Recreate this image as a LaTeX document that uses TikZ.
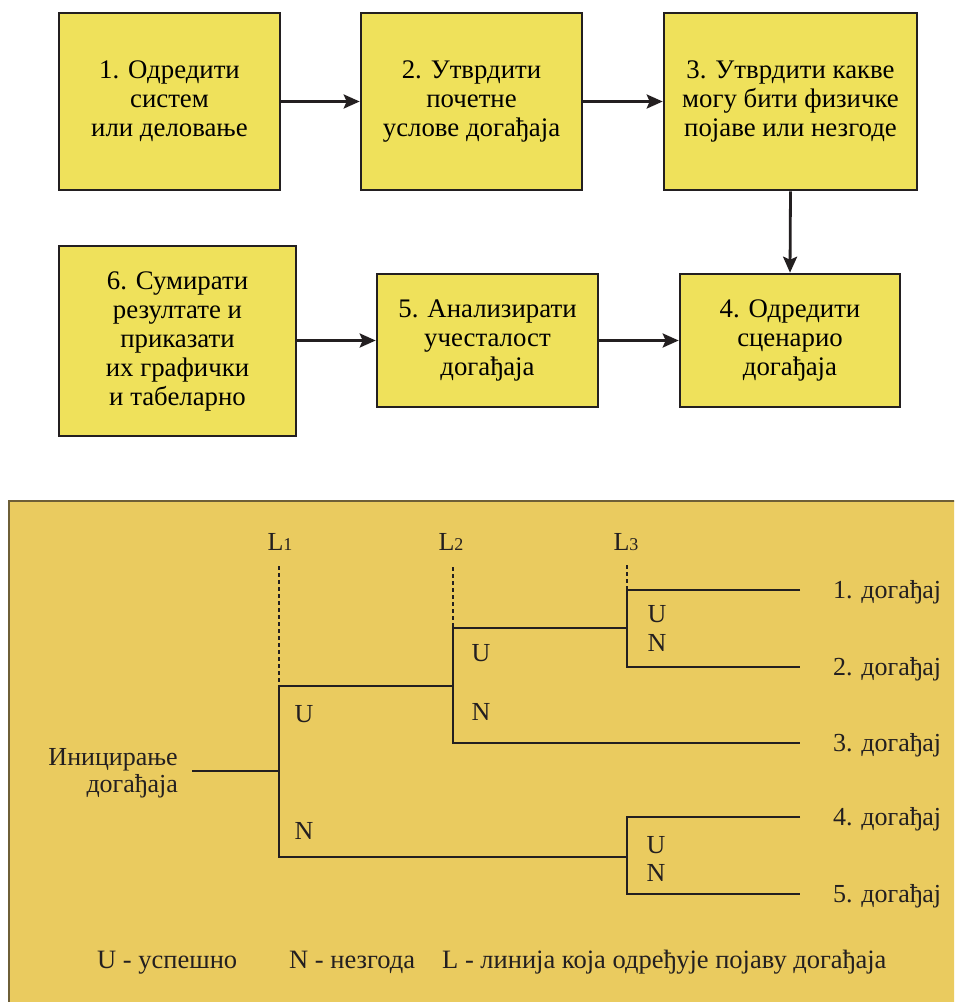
\documentclass[tikz,border=0pt]{standalone}
\usepackage{fontspec}
\setmainfont{Liberation Serif}
\usetikzlibrary{arrows.meta}
\definecolor{boxfill}{RGB}{239,225,91}
\definecolor{panelfill}{RGB}{234,203,95}
\definecolor{ink}{RGB}{35,31,32}
\definecolor{panelline}{RGB}{110,95,55}
\begin{document}
\begin{tikzpicture}[x=1pt,y=-1pt,
  stepbox/.style={draw=ink, line width=2.6pt, fill=boxfill, align=center, inner sep=0pt,
     font=\fontsize{26.8}{29}\selectfont},
  flow/.style={draw=ink, line width=2.8pt, -{Stealth[length=16pt,width=14pt,inset=3pt]}},
  tree/.style={draw=ink, line width=2.6pt},
  guide/.style={draw=ink, line width=2.6pt, dash pattern=on 4pt off 3pt},
  lbl/.style={font=\fontsize{26}{28}\selectfont, inner sep=0pt, text=ink},
  legend/.style={font=\fontsize{26.5}{28}\selectfont, inner sep=0pt, text=ink}]
\useasboundingbox (0,0) rectangle (954,1002);
\begin{scope}
\clip (0,0) rectangle (954,1002);
% bottom panel (runs past the right and bottom edges)
\node[draw=panelline, line width=2pt, fill=panelfill, minimum width=955pt, minimum height=511pt, inner sep=0pt] (panel) at (486.5,756.5) {};
\end{scope}
% top flow chart
\node[stepbox, minimum width=221pt, minimum height=177pt] (b1) at (169.5,101.5)
  {1. Одредити\\систем\\или деловање};
\node[stepbox, minimum width=221pt, minimum height=177pt] (b2) at (471.5,101.5)
  {2. Утврдити\\почетне\\услове догађаја};
\node[stepbox, minimum width=253pt, minimum height=177pt] (b3) at (790.5,101.5)
  {3. Утврдити какве\\могу бити физичке\\појаве или незгоде};
\node[stepbox, minimum width=237pt, minimum height=190pt] (b6) at (177.5,341)
  {6. Сумирати\\резултате и\\приказати\\их графички\\и табеларно};
\node[stepbox, minimum width=221pt, minimum height=133pt] (b5) at (487.5,340.5)
  {5. Анализирати\\учесталост\\догађаја};
\node[stepbox, minimum width=220pt, minimum height=133pt] (b4) at (790,340.5)
  {4. Одредити\\сценарио\\догађаја};
\draw[flow] (b1) -- (b2);
\draw[flow] (b2) -- (b3);
\draw[flow] (b3.south) -- (b4.north);
\draw[flow] (b6.east |- b5.east) -- (b5.west);
\draw[flow] (b5) -- (b4);
% tree coordinates
\coordinate (s) at (192,771);
\coordinate (a1) at (279,686);
\coordinate (a2) at (279,857);
\coordinate (b1t) at (453,628);
\coordinate (b1b) at (453,743);
\coordinate (c1t) at (627,590);
\coordinate (c1b) at (627,667);
\coordinate (c2t) at (627,817);
\coordinate (c2b) at (627,894);
\coordinate (g1) at (279,566);
\coordinate (g2) at (453,567);
\coordinate (g3) at (627,565);
\coordinate (e1) at (800,590);
\coordinate (e2) at (800,667);
\coordinate (e3) at (800,743);
\coordinate (e4) at (800,817);
\coordinate (e5) at (800,894);
\draw[guide] (g1) -- (a1);
\draw[guide] (g2) -- (b1t);
\draw[guide] (g3) -- (c1t);
\draw[tree] (s) -- (s -| a1);
\draw[tree] (a1 -| b1t) -- (a1) -- (a2) -- (a2 -| c2t);
\draw[tree] (b1t -| c1t) -- (b1t) -- (b1b) -- (e3);
\draw[tree] (e1) -- (c1t) -- (c1b) -- (e2);
\draw[tree] (e4) -- (c2t) -- (c2b) -- (e5);
% labels
\node[lbl, anchor=base] (l1) at (280,550) {L{\fontsize{18}{18}\selectfont 1}};
\node[lbl, anchor=base] (l2) at (451,550) {L{\fontsize{18}{18}\selectfont 2}};
\node[lbl, anchor=base] (l3) at (626,550) {L{\fontsize{18}{18}\selectfont 3}};
\node[lbl, anchor=base] (u1) at (304,722) {U};
\node[lbl, anchor=base] (n1) at (304,839) {N};
\node[lbl, anchor=base] (u2) at (481,661) {U};
\node[lbl, anchor=base] (n2) at (481,720) {N};
\node[lbl, anchor=base] (u3) at (657,622) {U};
\node[lbl, anchor=base] (n3) at (657,651) {N};
\node[lbl, anchor=base] (u4) at (656,853) {U};
\node[lbl, anchor=base] (n4) at (656,881) {N};
\node[lbl, anchor=base west] (t1) at (833,598) {1. догађај};
\node[lbl, anchor=base west] (t2) at (833,675) {2. догађај};
\node[lbl, anchor=base west] (t3) at (833,751) {3. догађај};
\node[lbl, anchor=base west] (t4) at (833,825) {4. догађај};
\node[lbl, anchor=base west] (t5) at (833,902) {5. догађај};
\node[lbl, anchor=base east] (i1) at (178,765) {Иницирање};
\node[lbl, anchor=base east] (i2) at (178,792) {догађаја};
\node[legend, anchor=base west] (lg1) at (97,968) {U - успешно};
\node[legend, anchor=base west] (lg2) at (289,968) {N - незгода};
\node[legend, anchor=base west] (lg3) at (442,968) {L - линија која одређује појаву догађаја};
\end{tikzpicture}
\end{document}
